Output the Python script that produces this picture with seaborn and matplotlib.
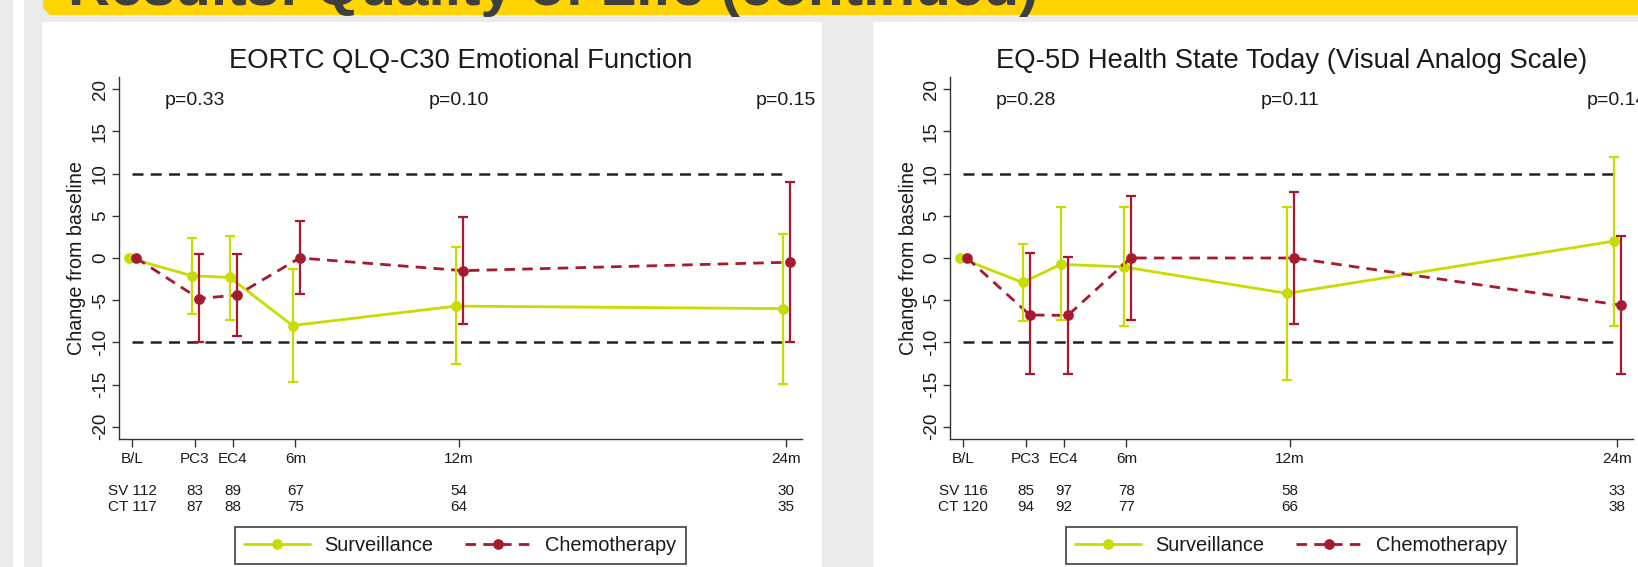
import numpy as np
import pandas as pd
import matplotlib
matplotlib.use("Agg")
import matplotlib.pyplot as plt
import seaborn as sns
from matplotlib.patches import Rectangle, Polygon
from matplotlib.lines import Line2D

# ---------------- data ----------------
timepoints = ["B/L", "PC3", "EC4", "6m", "12m", "24m"]
months = [0, 2.3, 3.7, 6, 12, 24]
groups = ["Surveillance", "Chemotherapy"]

ef_surv_mean = [0, -2.1, -2.3, -8.0, -5.7, -6.0]
ef_surv_lo = [np.nan, -6.6, -7.3, -14.7, -12.6, -14.9]
ef_surv_hi = [np.nan, 2.4, 2.6, -1.3, 1.3, 2.9]
ef_chemo_mean = [0, -4.8, -4.4, 0.0, -1.5, -0.5]
ef_chemo_lo = [np.nan, -10.0, -9.2, -4.3, -7.8, -10.0]
ef_chemo_hi = [np.nan, 0.5, 0.5, 4.4, 4.9, 9.0]
ef_pvals = ["p=0.33", "p=0.10", "p=0.15"]
ef_n_sv = [112, 83, 89, 67, 54, 30]
ef_n_ct = [117, 87, 88, 75, 64, 35]

vas_surv_mean = [0, -2.9, -0.75, -1.05, -4.2, 2.0]
vas_surv_lo = [np.nan, -7.5, -7.4, -8.1, -14.4, -8.0]
vas_surv_hi = [np.nan, 1.7, 6.0, 6.1, 6.1, 12.0]
vas_chemo_mean = [0, -6.75, -6.8, 0.0, 0.0, -5.6]
vas_chemo_lo = [np.nan, -13.8, -13.7, -7.35, -7.85, -13.75]
vas_chemo_hi = [np.nan, 0.55, 0.15, 7.35, 7.8, 2.65]
vas_pvals = ["p=0.28", "p=0.11", "p=0.14"]
vas_n_sv = [116, 85, 97, 78, 58, 33]
vas_n_ct = [120, 94, 92, 77, 66, 38]

pval_months = [2.3, 12, 24]
ref_levels = [-10, 10]

titles = ["EORTC QLQ-C30 Emotional Function",
          "EQ-5D Health State Today (Visual Analog Scale)"]
slide_title = "Results: Quality of Life (continued)"

# ---------------- style ----------------
sns.set_theme(style="white")
plt.rcParams["font.family"] = ["Liberation Sans", "DejaVu Sans"]
plt.rcParams["axes.unicode_minus"] = False

W, H = 1638, 567
fig = plt.figure(figsize=(W / 100, H / 100), dpi=100)
fig.patch.set_facecolor("#ebebeb")

def fx(px):
    return px / W

def fy(py):
    return 1 - py / H

# page decorations
fig.patches.append(Rectangle((fx(13), 0), fx(11), 1, transform=fig.transFigure,
                             facecolor="white", edgecolor="none", zorder=-5))
fig.patches.append(Rectangle((fx(42), 0), fx(822 - 42), fy(22), transform=fig.transFigure,
                             facecolor="white", edgecolor="none", zorder=-5))
fig.patches.append(Rectangle((fx(873), 0), fx(W - 873), fy(22), transform=fig.transFigure,
                             facecolor="white", edgecolor="none", zorder=-5))
fig.patches.append(Polygon([(fx(43), fy(0)), (fx(W), fy(0)), (fx(W), fy(15)),
                            (fx(50), fy(15)), (fx(43), fy(8))], closed=True,
                           transform=fig.transFigure, facecolor="#ffd400",
                           edgecolor="none", zorder=-4))
fig.text(fx(68), fy(5), slide_title, fontsize=42, fontweight="bold",
         color="#3f3f3f", ha="left", va="baseline")

SURV_C = "#c8dc00"
CHEMO_C = "#a6192e"
palette = {"Surveillance": SURV_C, "Chemotherapy": CHEMO_C}
dashes = {"Surveillance": "", "Chemotherapy": (3.8, 2.6)}
offsets = {"Surveillance": -0.11, "Chemotherapy": 0.15}

panels = [
    (titles[0], ef_surv_mean, ef_surv_lo, ef_surv_hi, ef_chemo_mean, ef_chemo_lo,
     ef_chemo_hi, ef_pvals, ef_n_sv, ef_n_ct),
    (titles[1], vas_surv_mean, vas_surv_lo, vas_surv_hi, vas_chemo_mean, vas_chemo_lo,
     vas_chemo_hi, vas_pvals, vas_n_sv, vas_n_ct),
]

AX_L, AX_R, AX_T, AX_B = 119, 802, 76.7, 438.7
SHIFT = 831
axh = AX_B - AX_T

for i, (title, sm, slo, shi, cm, clo, chi, pv, nsv, nct) in enumerate(panels):
    left = AX_L + i * SHIFT
    ax = fig.add_axes([fx(left), fy(AX_B), fx(AX_R - AX_L), axh / H])
    ax.set_facecolor("none")

    df = pd.DataFrame({
        "x": [m + offsets["Surveillance"] for m in months] + [m + offsets["Chemotherapy"] for m in months],
        "y": list(sm) + list(cm),
        "group": ["Surveillance"] * len(months) + ["Chemotherapy"] * len(months),
    })
    sns.lineplot(data=df, x="x", y="y", hue="group", style="group",
                 hue_order=groups, style_order=groups, palette=palette,
                 dashes=dashes, markers={"Surveillance": "o", "Chemotherapy": "o"},
                 markersize=7.7, markeredgewidth=0, linewidth=2.0,
                 estimator=None, sort=False, legend=False, ax=ax, zorder=3)

    for g, mean, lo, hi, z in [("Surveillance", sm, slo, shi, 3.5), ("Chemotherapy", cm, clo, chi, 3.6)]:
        xs = np.array(months) + offsets[g]
        mean = np.array(mean, dtype=float)
        lo = np.array(lo, dtype=float)
        hi = np.array(hi, dtype=float)
        ok = ~np.isnan(lo)
        ax.errorbar(xs[ok], mean[ok], yerr=[mean[ok] - lo[ok], hi[ok] - mean[ok]],
                    fmt="none", ecolor=palette[g], elinewidth=1.6, capsize=3.8,
                    capthick=1.6, zorder=z)

    for lvl in ref_levels:
        ax.hlines(lvl, months[0], months[-1], colors="#222222", linewidth=1.8,
                  linestyles=(0, (4.4, 2.9)), zorder=2)

    ax.set_xlim(-0.477, 24.587)
    ax.set_ylim(-21.41, 21.48)
    ax.set_yticks(np.arange(-20, 21, 5))
    ax.set_xticks(months)
    ax.set_xticklabels(timepoints)
    ax.set_xlabel("")
    ax.set_ylabel("")
    for s in ["top", "right"]:
        ax.spines[s].set_visible(False)
    for s in ["left", "bottom"]:
        ax.spines[s].set_color("#333333")
        ax.spines[s].set_linewidth(1.0)
    ax.tick_params(axis="y", which="both", left=True, direction="out", length=4.8,
                   width=1.0, color="#333333", labelsize=13.5, pad=2.5,
                   labelrotation=90, labelcolor="#1a1a1a")
    for lab in ax.get_yticklabels():
        lab.set_verticalalignment("center")
    ax.tick_params(axis="x", which="both", bottom=True, direction="out", length=5.8,
                   width=1.0, color="#333333", labelsize=11, pad=4, labelcolor="#1a1a1a")

    ax.text(0.5, 1 + 8.5 / axh, title, transform=ax.transAxes, ha="center",
            va="baseline", fontsize=19.8, color="#1a1a1a")
    ax.text(-42 / (AX_R - AX_L), 0.5, "Change from baseline", transform=ax.transAxes,
            rotation=90, ha="center", va="center", fontsize=14.2, color="#1a1a1a")

    for xm, t in zip(pval_months, pv):
        ax.text(xm, 18.7, t, ha="center", va="center", fontsize=14, color="#1a1a1a")

    tr = ax.get_xaxis_transform()
    y_sv = -(490.7 - AX_B) / axh
    y_ct = -(507 - AX_B) / axh
    for j, (xm, a, b) in enumerate(zip(months, nsv, nct)):
        ta = f"SV {a}" if j == 0 else f"{a}"
        tb = f"CT {b}" if j == 0 else f"{b}"
        ax.text(xm, y_sv, ta, transform=tr, ha="center", va="center", fontsize=11,
                color="#1a1a1a", clip_on=False)
        ax.text(xm, y_ct, tb, transform=tr, ha="center", va="center", fontsize=11,
                color="#1a1a1a", clip_on=False)

    handles = [
        Line2D([], [], color=SURV_C, lw=2.0, marker="o", markersize=7.7, markeredgewidth=0),
        Line2D([], [], color=CHEMO_C, lw=2.0, marker="o", markersize=7.7, markeredgewidth=0,
               dashes=(3.8, 2.6)),
    ]
    leg = ax.legend(handles, groups, loc="upper center",
                    bbox_to_anchor=(0.5, -(527 - AX_B) / axh), ncol=2, frameon=True,
                    fontsize=14.4, handlelength=3.3, handletextpad=0.7,
                    columnspacing=1.6, borderpad=0.45, borderaxespad=0,
                    numpoints=1, fancybox=False)
    leg.get_frame().set_edgecolor("#222222")
    leg.get_frame().set_linewidth(1.3)
    for t in leg.get_texts():
        t.set_color("#1a1a1a")

fig.savefig("out.png", dpi=100, facecolor=fig.get_facecolor())
